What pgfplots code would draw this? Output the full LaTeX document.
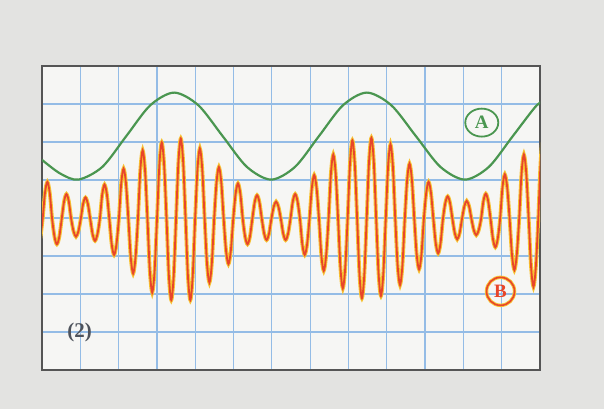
\documentclass[border=0pt]{standalone}
\usepackage{pgfplots}
\pgfplotsset{compat=1.18}
\usepackage{pgfplotstable}
\usetikzlibrary{shapes.geometric}
\usepackage{fontspec}
\setmainfont{Liberation Serif}

\definecolor{paper}{HTML}{E3E3E1}
\definecolor{screen}{HTML}{F6F6F4}
\definecolor{gridblue}{HTML}{94BCE6}
\definecolor{waveA}{HTML}{4A9650}
\definecolor{waveB}{HTML}{E8452A}
\definecolor{glow}{HTML}{F7C232}
\definecolor{frame}{HTML}{555555}
\definecolor{label}{HTML}{4E535C}

% wave A (green)
\pgfplotstableread{
x y
0 5.53
0.475 5.17
0.95 5.01
1.575 5.345
2.2 6.155
2.825 6.965
3.45 7.30
4.083 6.965
4.715 6.155
5.348 5.345
5.98 5.01
6.605 5.345
7.23 6.155
7.855 6.965
8.48 7.30
9.12 6.965
9.76 6.155
10.40 5.345
11.04 5.01
11.665 5.345
12.29 6.155
12.915 6.965
13.2 7.12
}\waveA

% wave B (orange): crests, troughs, their shoulders and the crossings
\pgfplotstableread[row sep=\\]{
x y \\
-0.171 3.461 \\ -0.109 3.25 \\ -0.047 3.461 \\ 0.016 3.97 \\
0.078 4.663 \\ 0.140 4.95 \\ 0.202 4.663 \\ 0.265 3.97 \\
0.327 3.503 \\ 0.389 3.31 \\ 0.451 3.503 \\ 0.514 3.97 \\
0.576 4.437 \\ 0.638 4.63 \\ 0.700 4.437 \\ 0.763 3.97 \\
0.825 3.645 \\ 0.887 3.51 \\ 0.949 3.645 \\ 1.011 3.97 \\
1.073 4.373 \\ 1.135 4.54 \\ 1.197 4.373 \\ 1.260 3.97 \\
1.322 3.567 \\ 1.384 3.40 \\ 1.446 3.567 \\ 1.509 3.97 \\
1.571 4.613 \\ 1.633 4.88 \\ 1.695 4.613 \\ 1.758 3.97 \\
1.820 3.305 \\ 1.882 3.03 \\ 1.944 3.305 \\ 2.006 3.97 \\
2.068 4.910 \\ 2.130 5.30 \\ 2.192 4.910 \\ 2.255 3.97 \\
2.317 2.959 \\ 2.379 2.54 \\ 2.441 2.959 \\ 2.504 3.97 \\
2.566 5.250 \\ 2.628 5.78 \\ 2.690 5.250 \\ 2.753 3.97 \\
2.815 2.605 \\ 2.877 2.04 \\ 2.939 2.605 \\ 3.002 3.97 \\
3.064 5.398 \\ 3.126 5.99 \\ 3.188 5.398 \\ 3.251 3.97 \\
3.313 2.464 \\ 3.375 1.84 \\ 3.437 2.464 \\ 3.499 3.97 \\
3.561 5.469 \\ 3.623 6.09 \\ 3.685 5.469 \\ 3.748 3.97 \\
3.810 2.464 \\ 3.872 1.84 \\ 3.934 2.464 \\ 3.997 3.97 \\
4.059 5.285 \\ 4.121 5.83 \\ 4.183 5.285 \\ 4.246 3.97 \\
4.308 2.789 \\ 4.370 2.30 \\ 4.432 2.789 \\ 4.494 3.97 \\
4.556 4.939 \\ 4.618 5.34 \\ 4.680 4.939 \\ 4.743 3.97 \\
4.805 3.136 \\ 4.867 2.79 \\ 4.929 3.136 \\ 4.992 3.97 \\
5.054 4.635 \\ 5.116 4.91 \\ 5.178 4.635 \\ 5.241 3.97 \\
5.303 3.503 \\ 5.365 3.31 \\ 5.427 3.503 \\ 5.490 3.97 \\
5.552 4.415 \\ 5.614 4.60 \\ 5.676 4.415 \\ 5.739 3.97 \\
5.801 3.581 \\ 5.863 3.42 \\ 5.925 3.581 \\ 5.987 3.97 \\
6.049 4.295 \\ 6.111 4.43 \\ 6.173 4.295 \\ 6.236 3.97 \\
6.298 3.581 \\ 6.360 3.42 \\ 6.422 3.581 \\ 6.485 3.97 \\
6.547 4.437 \\ 6.609 4.63 \\ 6.671 4.437 \\ 6.734 3.97 \\
6.796 3.305 \\ 6.858 3.03 \\ 6.920 3.305 \\ 6.982 3.97 \\
7.044 4.790 \\ 7.106 5.13 \\ 7.168 4.790 \\ 7.231 3.97 \\
7.293 3.008 \\ 7.355 2.61 \\ 7.417 3.008 \\ 7.480 3.97 \\
7.542 5.172 \\ 7.604 5.67 \\ 7.666 5.172 \\ 7.729 3.97 \\
7.791 2.683 \\ 7.853 2.15 \\ 7.915 2.683 \\ 7.978 3.97 \\
8.040 5.433 \\ 8.102 6.04 \\ 8.164 5.433 \\ 8.227 3.97 \\
8.289 2.499 \\ 8.351 1.89 \\ 8.413 2.499 \\ 8.475 3.97 \\
8.537 5.483 \\ 8.599 6.11 \\ 8.661 5.483 \\ 8.724 3.97 \\
8.786 2.542 \\ 8.848 1.95 \\ 8.910 2.542 \\ 8.973 3.97 \\
9.035 5.363 \\ 9.097 5.94 \\ 9.159 5.363 \\ 9.222 3.97 \\
9.284 2.747 \\ 9.346 2.24 \\ 9.408 2.747 \\ 9.470 3.97 \\
9.532 5.002 \\ 9.594 5.43 \\ 9.656 5.002 \\ 9.719 3.97 \\
9.781 3.037 \\ 9.843 2.65 \\ 9.905 3.037 \\ 9.968 3.97 \\
10.030 4.663 \\ 10.092 4.95 \\ 10.154 4.663 \\ 10.217 3.97 \\
10.279 3.334 \\ 10.341 3.07 \\ 10.403 3.334 \\ 10.466 3.97 \\
10.528 4.394 \\ 10.590 4.57 \\ 10.652 4.394 \\ 10.715 3.97 \\
10.777 3.595 \\ 10.839 3.44 \\ 10.901 3.595 \\ 10.963 3.97 \\
11.025 4.309 \\ 11.087 4.45 \\ 11.149 4.309 \\ 11.212 3.97 \\
11.274 3.673 \\ 11.336 3.55 \\ 11.398 3.673 \\ 11.461 3.97 \\
11.523 4.444 \\ 11.585 4.64 \\ 11.647 4.444 \\ 11.710 3.97 \\
11.772 3.447 \\ 11.834 3.23 \\ 11.896 3.447 \\ 11.958 3.97 \\
12.020 4.804 \\ 12.082 5.15 \\ 12.144 4.804 \\ 12.207 3.97 \\
12.269 3.023 \\ 12.331 2.63 \\ 12.393 3.023 \\ 12.456 3.97 \\
12.518 5.172 \\ 12.580 5.67 \\ 12.642 5.172 \\ 12.705 3.97 \\
12.767 2.712 \\ 12.829 2.19 \\ 12.891 2.712 \\ 12.954 3.97 \\
13.016 5.476 \\ 13.078 6.10 \\ 13.140 5.476 \\
}\waveB

\begin{document}
\begin{tikzpicture}
\fill[paper] (-42bp,-39bp) rectangle (562bp,370bp);
\begin{axis}[
    at={(0,0)}, anchor=south west,
    scale only axis,
    width=498bp, height=304bp,
    xmin=0, xmax=13, ymin=0, ymax=8,
    xtick={0,...,13}, ytick={0,...,8},
    xticklabels={}, yticklabels={},
    major tick length=0pt,
    grid=major,
    major grid style={gridblue, line width=1.3bp},
    axis background/.style={fill=screen},
    axis line style={frame, line width=1.8bp},
  ]
  \addplot[waveA, line width=2.2bp, smooth, no marks] table {\waveA};
  \addplot[glow, line width=3.8bp, smooth, no marks] table {\waveB};
  \addplot[waveB, line width=1.8bp, smooth, no marks] table {\waveB};

  \node[ellipse, draw=waveA, line width=1.8bp, text=waveA, inner sep=0pt,
        minimum width=33bp, minimum height=28bp, font=\bfseries\fontsize{19}{19}\selectfont]
    at (axis cs:11.48,6.51) {A};
  \node[circle, draw=glow, line width=3.4bp, minimum size=28bp] at (axis cs:11.97,2.07) {};
  \node[circle, draw=waveB, line width=1.6bp, text=waveB, inner sep=0pt,
        minimum size=28bp, font=\bfseries\fontsize{19}{19}\selectfont]
    at (axis cs:11.97,2.07) {B};
  \node[text=label, font=\bfseries\fontsize{21}{21}\selectfont]
    at (axis cs:0.98,0.99) {(2)};
\end{axis}
\end{tikzpicture}
\end{document}
